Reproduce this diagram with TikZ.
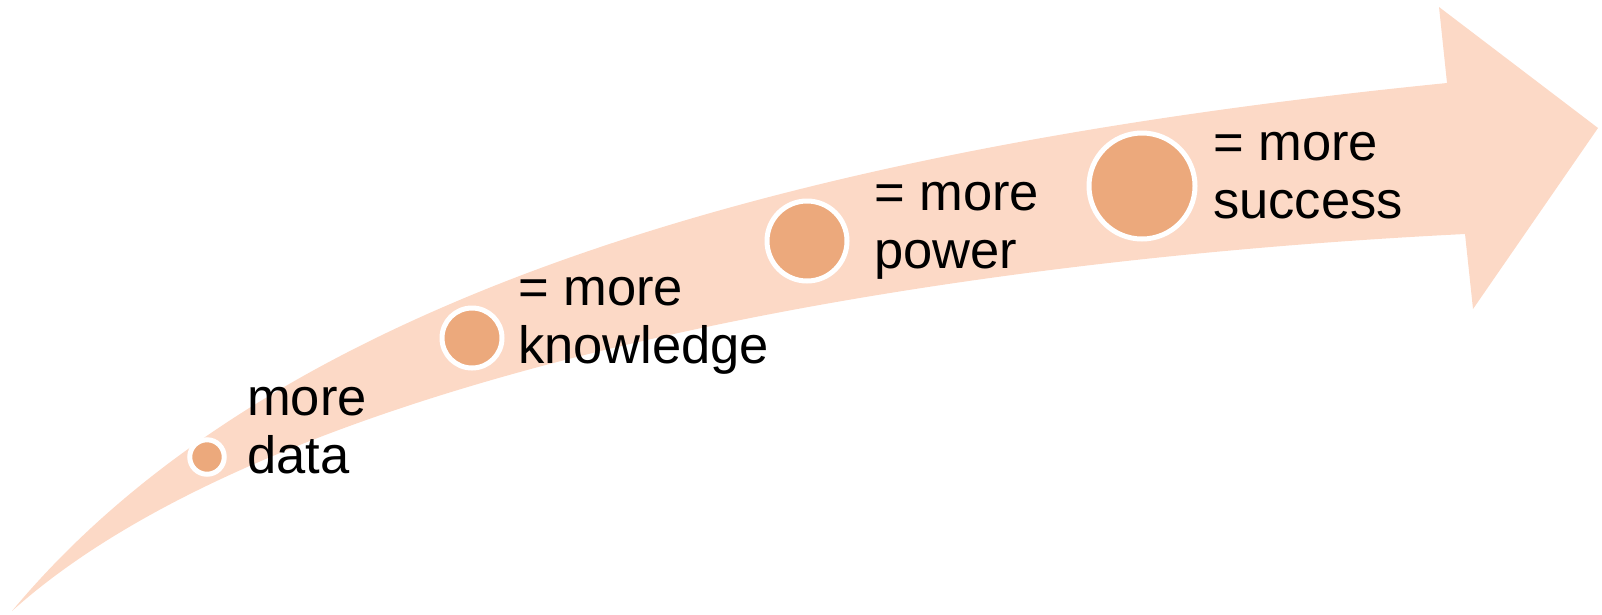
\documentclass[tikz,border=0pt]{standalone}
\usepackage{fontspec}
\setmainfont{Liberation Sans}
\definecolor{arrowfill}{HTML}{FCD9C6}
\definecolor{dotfill}{HTML}{ECA97C}
\begin{document}
\begin{tikzpicture}[x=1pt,y=-1pt,
  dot/.style={circle,fill=dotfill,draw=white,line width=5pt,inner sep=0pt,minimum size=#1},
  lbl/.style={anchor=base west,inner sep=0pt,align=left,font=\fontsize{52.5}{57.5}\selectfont}]
\useasboundingbox (0,0) rectangle (1602,614);
\fill[arrowfill] (12,611) .. controls (262,311) and (747,153) .. (1447,83)
  -- (1439,7) -- (1598,128) -- (1473,309) -- (1465,234)
  .. controls (865,264) and (262,386) .. (12,611) -- cycle;
\node[dot=34.5pt] (c1) at (207,457) {};
\node[dot=60pt] (c2) at (472,338) {};
\node[dot=80pt] (c3) at (807,241) {};
\node[dot=106pt] (c4) at (1142,186) {};
\node[lbl] (t1) at (247,473) {more\\data};
\node[lbl] (t2) at (518,363) {= more\\knowledge};
\node[lbl] (t3) at (874,268) {= more\\power};
\node[lbl] (t4) at (1213,218) {= more\\success};
\end{tikzpicture}
\end{document}
